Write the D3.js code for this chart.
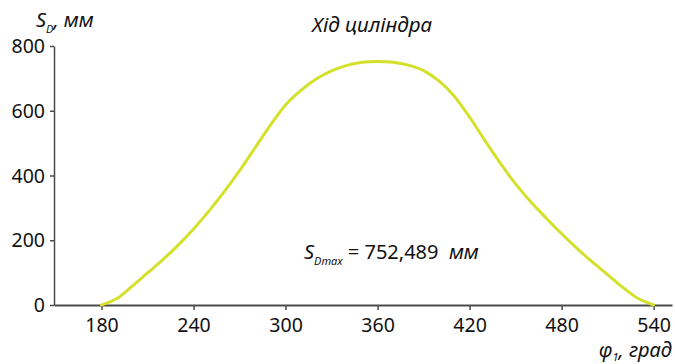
<!DOCTYPE html>
<html>
<head>
<meta charset="utf-8">
<script src="https://cdn.jsdelivr.net/npm/d3@7"></script>
<style>
  html, body { margin: 0; padding: 0; background: #fff; }
  svg text { font-family: "Noto Sans", "DejaVu Sans", sans-serif; fill: #111; }
</style>
</head>
<body>
<svg id="chart" width="675" height="364"></svg>
<script>
// Crank angle, degrees
const angles = [180, 190, 200, 210, 220, 230, 240, 250, 260, 270, 280, 290, 300,
  310, 320, 330, 340, 350, 360, 370, 380, 390, 400, 410, 420, 430, 440, 450,
  460, 470, 480, 490, 500, 510, 520, 530, 540];
// Cylinder stroke, mm
const stroke = [0, 20, 58, 99, 140, 185, 235, 290, 350, 415, 485, 555, 618,
  663, 698, 723, 740, 750, 752.489, 750, 741, 724, 692, 645, 580, 508, 438, 374,
  318, 268, 220, 175, 133, 94, 54, 20, 0];
const xTicks = [180, 240, 300, 360, 420, 480, 540];
const yTicks = [0, 200, 400, 600, 800];
const strokeMax = 752.489;

const svg = d3.select("#chart");
const x = d3.scaleLinear().domain([149, 552]).range([54, 672]);
const y = d3.scaleLinear().domain([0, 800]).range([305, 46]);
const axisColor = "#4a4a4a";

// x axis
const gx = svg.append("g").attr("transform", `translate(0,${y(0)})`)
  .call(d3.axisBottom(x).tickValues(xTicks).tickSize(5).tickSizeOuter(0).tickPadding(8));
gx.select(".domain").attr("stroke", axisColor).attr("stroke-width", 2);
gx.selectAll(".tick line").attr("stroke", axisColor).attr("stroke-width", 1.5);
gx.selectAll(".tick text").style("font-size", "19.5px").attr("fill", "#111");

// y axis
const gy = svg.append("g").attr("transform", `translate(${x(149)},0)`)
  .call(d3.axisLeft(y).tickValues(yTicks).tickSize(4).tickSizeOuter(0).tickPadding(5));
gy.select(".domain").attr("stroke", axisColor).attr("stroke-width", 1.5);
gy.selectAll(".tick line").attr("stroke", axisColor).attr("stroke-width", 1.5);
gy.selectAll(".tick text").style("font-size", "19.5px").attr("fill", "#111").attr("dy", "0.34em");

// stroke curve
const line = d3.line()
  .x((d, i) => x(angles[i]))
  .y(d => y(d))
  .curve(d3.curveCatmullRom.alpha(0.5));
svg.append("path").datum(stroke)
  .attr("d", line)
  .attr("fill", "none")
  .attr("stroke", "#d5e02b")
  .attr("stroke-width", 3)
  .attr("stroke-linecap", "round");

// title
svg.append("text").attr("x", 372).attr("y", 32).attr("text-anchor", "middle")
  .style("font-size", "20.5px").style("font-style", "italic").text("Хід циліндра");

// y axis label
const yl = svg.append("text").attr("x", 36).attr("y", 27)
  .style("font-size", "20px").style("font-style", "italic");
yl.append("tspan").text("S");
yl.append("tspan").attr("dy", 6).style("font-size", "11px").text("D");
yl.append("tspan").attr("dy", -6).text(", мм");

// x axis label
const xl = svg.append("text").attr("x", 672).attr("y", 357).attr("text-anchor", "end")
  .style("font-size", "20px").style("font-style", "italic");
xl.append("tspan").text("φ");
xl.append("tspan").attr("dy", 4).style("font-size", "11px").text("1");
xl.append("tspan").attr("dy", -4).text(", град");

// maximum stroke annotation
const fmt = v => d3.format(".3f")(v).replace(".", ",");
const an = svg.append("text").attr("x", 304).attr("y", 259).style("font-size", "20px");
an.append("tspan").style("font-style", "italic").text("S");
an.append("tspan").attr("dy", 6).style("font-size", "11px").style("font-style", "italic").text("Dmax");
an.append("tspan").attr("dy", -6).text(" = " + fmt(strokeMax) + "\u00a0 ");
an.append("tspan").style("font-style", "italic").text("мм");
</script>
</body>
</html>
